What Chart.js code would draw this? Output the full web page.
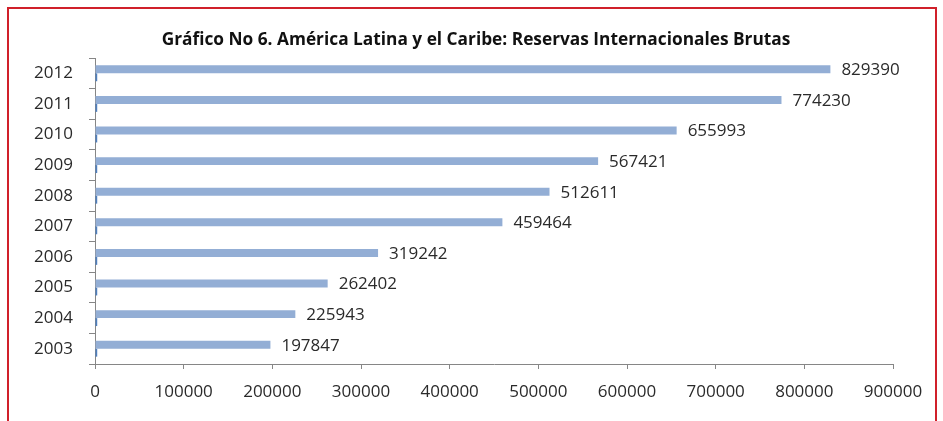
<!DOCTYPE html>
<html>
<head>
<meta charset="utf-8">
<script src="https://cdn.jsdelivr.net/npm/chart.js@4.4.1/dist/chart.umd.min.js"></script>
<style>
  body { margin: 0; background: #fff; }
  #wrap { position: relative; width: 943px; height: 421px; }
  #frame {
    position: absolute; left: 7px; top: 7px; width: 926px; height: 430px;
    border: 2px solid #d0202a; pointer-events: none;
  }
</style>
</head>
<body>
<div id="wrap">
  <canvas id="reservas" width="943" height="421"></canvas>
  <div id="frame"></div>
</div>
<script>
// Reservas internacionales brutas, America Latina y el Caribe (millones US$)
var years = ['2003', '2004', '2005', '2006', '2007', '2008', '2009', '2010', '2011', '2012'];
var reservas = [197847, 225943, 262402, 319242, 459464, 512611, 567421, 655993, 774230, 829390];
// second series, barely visible at the axis
var serieMenor = [2500, 2500, 2500, 2500, 2500, 2500, 2500, 2500, 2500, 2500];
var xTicks = [0, 100000, 200000, 300000, 400000, 500000, 600000, 700000, 800000, 900000];

var tituloGrafico = 'Gráfico No 6. América Latina y el Caribe: Reservas Internacionales Brutas';
var textFont = { family: 'Open Sans', size: 17 };

// title, centred a little right of the canvas middle
var chartTitle = {
  id: 'chartTitle',
  afterDraw: function(chart) {
    var ctx = chart.ctx;
    ctx.save();
    ctx.font = 'bold 17.3px Open Sans';
    ctx.fillStyle = '#111';
    ctx.textAlign = 'center';
    ctx.textBaseline = 'middle';
    ctx.fillText(tituloGrafico, 476, 40);
    ctx.restore();
  }
};

// writes the value at the end of each bar of the first dataset
var valueLabels = {
  id: 'valueLabels',
  afterDatasetsDraw: function(chart) {
    var ctx = chart.ctx;
    var meta = chart.getDatasetMeta(0);
    ctx.save();
    ctx.font = textFont.size + 'px ' + textFont.family;
    ctx.fillStyle = '#2a2a2a';
    ctx.textAlign = 'left';
    ctx.textBaseline = 'middle';
    meta.data.forEach(function(bar, i) {
      ctx.fillText(String(reservas[i]), bar.x + 11, bar.y + 1);
    });
    ctx.restore();
  }
};

new Chart(document.getElementById('reservas'), {
  type: 'bar',
  data: {
    labels: years,
    datasets: [{
      label: 'Reservas',
      data: reservas,
      backgroundColor: '#93aed5',
      categoryPercentage: 0.52,
      barPercentage: 1
    }, {
      label: 'Otra',
      data: serieMenor,
      backgroundColor: '#4f7fbd',
      categoryPercentage: 0.52,
      barPercentage: 1
    }]
  },
  options: {
    indexAxis: 'y',
    responsive: false,
    animation: false,
    layout: { padding: { left: 0, right: 50, top: 58, bottom: 0 } },
    plugins: {
      legend: { display: false },
      tooltip: { enabled: false },
      title: { display: false }
    },
    scales: {
      x: {
        min: 0,
        max: 900000,
        afterBuildTicks: function(scale) {
          scale.ticks = xTicks.map(function(v) { return { value: v }; });
        },
        afterFit: function(scale) { scale.height = 57; },
        grid: { drawOnChartArea: false, tickLength: 5, color: '#868686' },
        border: { color: '#868686' },
        ticks: {
          color: '#2a2a2a', font: textFont, padding: 13, maxRotation: 0,
          callback: function(v) { return String(v); }
        }
      },
      y: {
        reverse: true,
        afterFit: function(scale) { scale.width = 95; },
        grid: { drawOnChartArea: false, tickLength: 6, color: '#868686', offset: true },
        border: { color: '#868686' },
        ticks: { color: '#2a2a2a', font: textFont, padding: 16 }
      }
    }
  },
  plugins: [valueLabels, chartTitle]
});
</script>
</body>
</html>
